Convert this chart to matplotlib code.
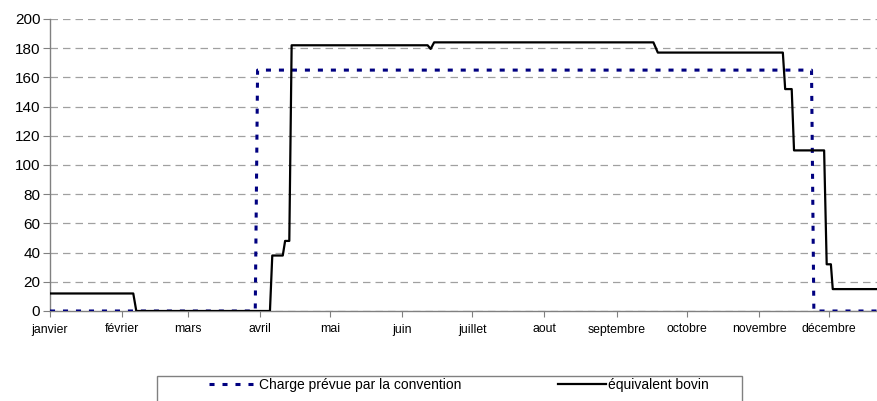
from matplotlib import pyplot as plt
from matplotlib.patches import Rectangle
import numpy as np

plt.rcParams['font.family'] = ['Liberation Sans', 'DejaVu Sans']

# month labels and start day of each month
mois = ['janvier', 'février', 'mars', 'avril', 'mai', 'juin', 'juillet',
        'aout', 'septembre', 'octobre', 'novembre', 'décembre']
debut_mois = [0, 31, 59, 90, 120, 151, 181, 212, 243, 273, 304, 334]

# charge prevue par la convention (day of year, value)
conv_jour = [0, 88, 89, 326.5, 327.5, 355]
conv_val = [0, 0, 165, 165, 0, 0]

# equivalent bovin (day of year, value)
bovin_jour = [0, 35.7, 37, 94.3, 95.3, 99.8, 100.8, 102.6, 103.6, 161.9, 163.2,
              164.7, 258.7, 260.6, 314.2, 315.2, 318, 319, 331.9, 333, 334.8,
              335.6, 355]
bovin_val = [12, 12, 0, 0, 38, 38, 48, 48, 182, 182, 179.5,
             184, 184, 177, 177, 152, 152, 110, 110, 32, 32,
             15, 15]

W, H = 878, 401
fig = plt.figure(figsize=(W / 100, H / 100), dpi=100)
ax = fig.add_axes([50 / W, (H - 311) / H, (W - 50) / W, (311 - 19) / H])

l1, = ax.plot(conv_jour, conv_val, color='#000080', lw=2.2,
              dashes=(1.65, 2.6), label='Charge prévue par la convention', zorder=3)
l2, = ax.plot(bovin_jour, bovin_val, color='black', lw=1.6,
              label='équivalent bovin', zorder=4)

ax.set_xlim(0, 355)
ax.set_ylim(0, 200)
ax.set_yticks(np.arange(0, 201, 20))
ax.set_xticks(debut_mois)
ax.set_xticklabels(mois, fontsize=8.8)
ax.tick_params(axis='y', labelsize=11, length=5, color='#808080', pad=2)
ax.tick_params(axis='x', length=4, color='#808080', pad=5)
ax.yaxis.grid(True, color='#a0a0a0', linestyle=(0, (6, 4)), lw=0.9)
ax.set_axisbelow(True)
for s in ['top', 'right']:
    ax.spines[s].set_visible(False)
for s in ['left', 'bottom']:
    ax.spines[s].set_color('#808080')
    ax.spines[s].set_linewidth(1.0)

# legend box (bottom runs off the figure)
fig.patches.append(Rectangle((157 / W, -0.1), (742 - 157) / W, 0.1 + (H - 376) / H,
                             transform=fig.transFigure, fill=False,
                             edgecolor='#808080', lw=1.0))
fig.legend(handles=[l1, l2], loc='center left', ncol=2, frameon=False,
           bbox_to_anchor=(209 / W, 1 - 385 / H), fontsize=10,
           handlelength=3.45, handletextpad=0.12, columnspacing=7.0,
           borderpad=0, borderaxespad=0)

fig.savefig('out.png', dpi=100)
